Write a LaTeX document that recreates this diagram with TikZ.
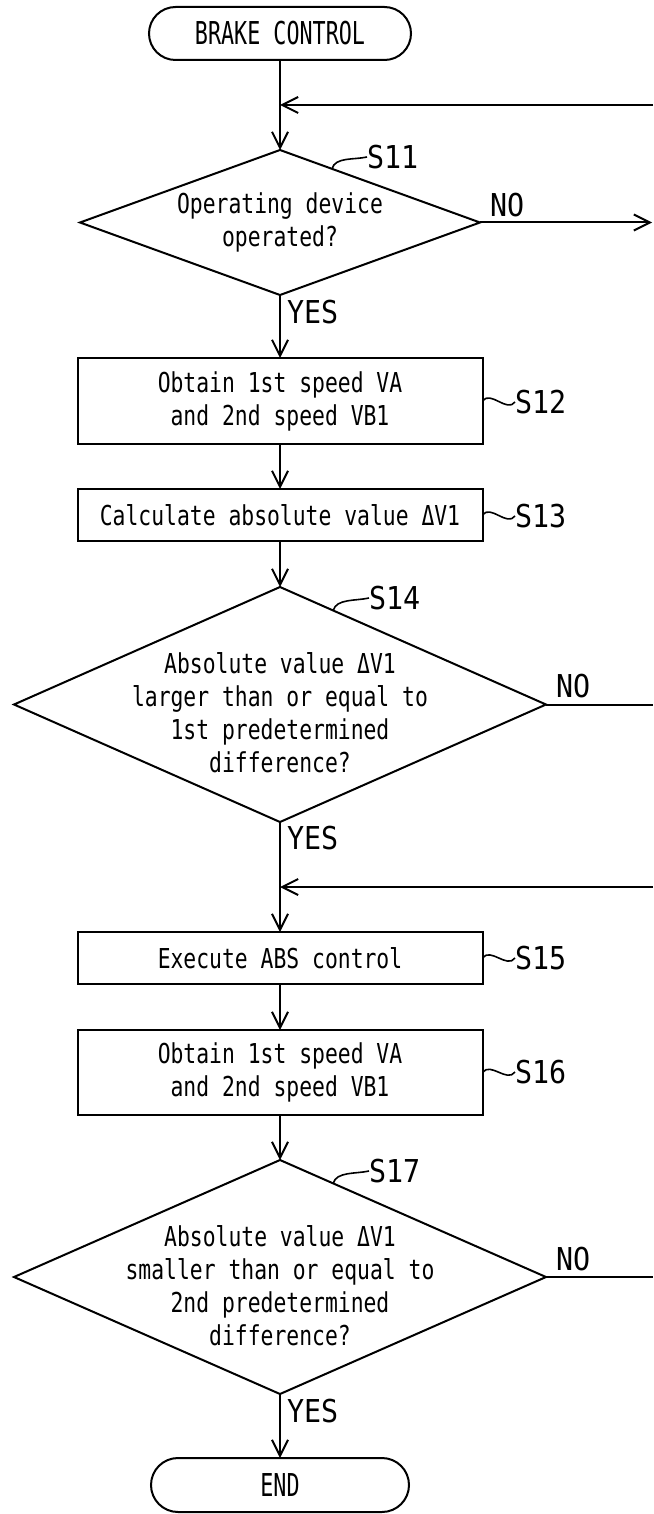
\documentclass[tikz,border=0pt]{standalone}
\usepackage{fontspec}
\usetikzlibrary{shapes.geometric,shapes.misc,arrows.meta,calc}
\newfontfamily\bodyf[FakeStretch=0.78]{DejaVu Sans Mono}
\newfontfamily\labf[FakeStretch=0.9]{DejaVu Sans Mono}
\newfontfamily\termf[FakeStretch=0.69]{DejaVu Sans Mono}
\begin{document}
\begin{tikzpicture}[x=1pt,y=-1pt,
  every node/.style={inner sep=0pt,outer sep=0pt},
  ln/.style={line width=2pt},
  arr/.style={line width=2pt,-{Straight Barb[length=16pt,width=16pt]}},
  procbox/.style={draw,line width=2pt,rectangle,minimum width=405pt,align=center,font={\bodyf\fontsize{27.4pt}{33pt}\selectfont}},
  termbox/.style={draw,line width=2pt,rounded rectangle,align=center,font={\termf\fontsize{31.5pt}{33pt}\selectfont}},
  decbox/.style={draw,line width=2pt,diamond},
  dectext/.style={align=center,font={\bodyf\fontsize{27.4pt}{33pt}\selectfont}},
  steplab/.style={anchor=west,font={\labf\fontsize{31.5pt}{33pt}\selectfont}},
  yesno/.style={anchor=west,font={\labf\fontsize{31.5pt}{33pt}\selectfont}}
]
\useasboundingbox (0,0) rectangle (653,1514);

% nodes
\node[termbox,minimum width=262pt,minimum height=53pt] (start) at (280,33.5) {BRAKE CONTROL};
\node[decbox,minimum width=400pt,minimum height=145pt] (d1) at (280,222.5) {};
\node[dectext] (d1t) at (280,222) {Operating device\\operated?};
\node[procbox,minimum height=86pt] (s12) at (280,401) {Obtain 1st speed VA\\and 2nd speed VB1};
\node[procbox,minimum height=52pt] (s13) at (280,515) {Calculate absolute value ΔV1};
\node[decbox,minimum width=532pt,minimum height=235pt] (d2) at (280,704.5) {};
\node[dectext] (d2t) at (280,713) {Absolute value ΔV1\\larger than or equal to\\1st predetermined\\difference?};
\node[procbox,minimum height=52pt] (s15) at (280,958) {Execute ABS control};
\node[procbox,minimum height=85pt] (s16) at (280,1072.5) {Obtain 1st speed VA\\and 2nd speed VB1};
\node[decbox,minimum width=532pt,minimum height=234pt] (d3) at (280,1277) {};
\node[dectext] (d3t) at (280,1286) {Absolute value ΔV1\\smaller than or equal to\\2nd predetermined\\difference?};
\node[termbox,minimum width=258pt,minimum height=54pt] (endn) at (280,1485) {END};

% step labels
\node[steplab] (l11) at (367,157) {S11};
\node[steplab] (l12) at (515,402) {S12};
\node[steplab] (l13) at (515,516) {S13};
\node[steplab] (l14) at (369,598) {S14};
\node[steplab] (l15) at (515,958) {S15};
\node[steplab] (l16) at (515,1072) {S16};
\node[steplab] (l17) at (369,1171) {S17};

% yes / no labels
\node[yesno] (y1) at (287,312) {YES};
\node[yesno] (y2) at (287,838.5) {YES};
\node[yesno] (y3) at (287,1411.5) {YES};
\node[yesno] (n1) at (490,205) {NO};
\node[yesno] (n2) at (556,686) {NO};
\node[yesno] (n3) at (556,1259) {NO};

% helper coordinates
\coordinate (r1) at (653,105);
\coordinate (j1) at (280,105);
\coordinate (r2) at (652,222.5);
\coordinate (r3) at (653,704.5);
\coordinate (r4) at (653,887);
\coordinate (j4) at (280,887);
\coordinate (r5) at (653,1277);

% main flow
\draw[arr] (start.south) -- (d1.north);
\draw[arr] (r1) -- (j1);
\draw[arr] (d1.east) -- (r2);
\draw[arr] (d1.south) -- (s12.north);
\draw[arr] (s12.south) -- (s13.north);
\draw[arr] (s13.south) -- (d2.north);
\draw[ln] (d2.east) -- (r3);
\draw[arr] (d2.south) -- (s15.north);
\draw[arr] (r4) -- (j4);
\draw[arr] (s15.south) -- (s16.north);
\draw[arr] (s16.south) -- (d3.north);
\draw[ln] (d3.east) -- (r5);
\draw[arr] (d3.south) -- (endn.north);

% leader squiggles for boxes
\foreach \b/\l in {s12/l12,s13/l13,s15/l15,s16/l16}{
  \draw[line width=1.6pt] (\b.east) .. controls +(8,-11) and +(-8,11) .. (\l.west);
}
% leader squiggles for diamonds
\coordinate (q11) at ($(d1.north)!0.26!(d1.east)$);
\coordinate (q14) at ($(d2.north)!0.2!(d2.east)$);
\coordinate (q17) at ($(d3.north)!0.2!(d3.east)$);
\draw[line width=1.6pt] (q11) .. controls +(3,-12) and +(-13,3) .. (l11.west);
\draw[line width=1.6pt] (q14) .. controls +(3,-12) and +(-13,3) .. (l14.west);
\draw[line width=1.6pt] (q17) .. controls +(3,-12) and +(-13,3) .. (l17.west);
\end{tikzpicture}
\end{document}
